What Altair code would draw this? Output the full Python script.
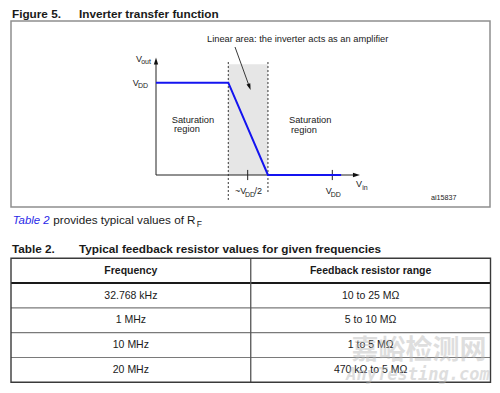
import altair as alt
import pandas as pd

# ---------------- data ----------------
# Inverter transfer function, both axes in units of VDD
vin = [0.0, 0.41, 0.635, 1.05]
vout = [1.0, 1.0, 0.0, 0.0]
linear_area = [0.41, 0.635]      # grey band: linear (amplifier) region
tick_vin = [0.52, 1.0]           # ~VDD/2 and VDD ticks on the Vin axis
axis_max_vin = 1.13
axis_max_vout = 1.22

# Table 2
headers = ["Frequency", "Feedback resistor range"]
frequencies = ["32.768 kHz", "1 MHz", "10 MHz", "20 MHz"]
resistors = ["10 to 25 MΩ", "5 to 10 MΩ", "1 to 5 MΩ", "470 kΩ to 5 MΩ"]

# ---------------- layout helpers ----------------
OX, OY = 8, 8          # page margin: reference pixel -> chart pixel
W, H = 484, 377
FONT = "Liberation Sans"
INK = "#1a1a1a"
BLUE = "#1414f0"
ONE = pd.DataFrame({"k": [0]})


def px(x):
    return x - OX


def py(y):
    return y - OY


def label(text, x, y, size, weight="normal", style="normal", color=INK,
          align="left", baseline="alphabetic", font=FONT, opacity=1.0):
    return alt.Chart(ONE).mark_text(
        text=text, fontSize=size, fontWeight=weight, fontStyle=style,
        color=color, align=align, baseline=baseline, font=font, opacity=opacity
    ).encode(x=alt.value(px(x)), y=alt.value(py(y)))


# figure coordinate system (Vin, Vout in VDD units)
XS = alt.Scale(domain=[0, 1], range=[px(156), px(332.3)], nice=False, zero=False)
YS = alt.Scale(domain=[0, 1], range=[py(175), py(82.7)], nice=False, zero=False)


def fx(f):
    return alt.X(f, scale=XS, axis=None)


def fy(f):
    return alt.Y(f, scale=YS, axis=None)


layers = []

# Figure frame
layers.append(alt.Chart(ONE).mark_rect(fillOpacity=0, stroke="#8f8f8f", strokeWidth=1.5).encode(
    x=alt.value(px(11)), x2=alt.value(px(490)), y=alt.value(py(21)), y2=alt.value(py(207))))

# Linear-area shading
shade = pd.DataFrame({"x0": [linear_area[0]], "x1": [linear_area[1]], "y0": [0.0], "y1": [1.2]})
layers.append(alt.Chart(shade).mark_rect(color="#e6e6e6").encode(
    x=fx("x0:Q"), x2="x1:Q", y=fy("y0:Q"), y2="y1:Q"))

# Dashed boundaries of the linear area
dash = pd.DataFrame({"v": linear_area, "top": [1.224, 1.224], "bot": [-0.27, -0.2]})
layers.append(alt.Chart(dash).mark_rule(color="#333333", strokeWidth=1, strokeDash=[2, 2]).encode(
    x=fx("v:Q"), y=fy("top:Q"), y2="bot:Q"))

# Axes
axes = pd.DataFrame({"x0": [0.0, 0.0], "x1": [0.0, axis_max_vin],
                     "y0": [0.0, 0.0], "y1": [axis_max_vout, 0.0]})
layers.append(alt.Chart(axes).mark_rule(color="#222222", strokeWidth=1).encode(
    x=fx("x0:Q"), x2="x1:Q", y=fy("y0:Q"), y2="y1:Q"))

# Ticks
ticks = pd.DataFrame({"v": tick_vin, "lo": [-0.055] * 2, "hi": [0.055] * 2})
layers.append(alt.Chart(ticks).mark_rule(color="#222222", strokeWidth=1).encode(
    x=fx("v:Q"), y=fy("lo:Q"), y2="hi:Q"))

# Arrow heads on axes
ARROW = "M0,-1L0.62,1L-0.62,1Z"
heads = pd.DataFrame({"x": [0.0, 1.137], "y": [1.235, 0.0], "a": [0, 90]})
layers.append(alt.Chart(heads).mark_point(shape=ARROW, filled=True, size=49, color="#111111", opacity=1).encode(
    x=fx("x:Q"), y=fy("y:Q"), angle=alt.Angle("a:Q", scale=None)))

# Transfer curve
curve = pd.DataFrame({"vin": vin, "vout": vout})
layers.append(alt.Chart(curve).mark_line(color=BLUE, strokeWidth=2).encode(
    x=fx("vin:Q"), y=fy("vout:Q")))

# Annotation arrow
layers.append(alt.Chart(ONE).mark_rule(color="#222222", strokeWidth=0.9).encode(
    x=alt.value(px(235)), y=alt.value(py(47)), x2=alt.value(px(249.3)), y2=alt.value(py(86.5))))
layers.append(alt.Chart(ONE).mark_point(shape=ARROW, filled=True, size=42, color="#111111", opacity=1, angle=160).encode(
    x=alt.value(px(249.5)), y=alt.value(py(86.9))))

# Figure texts
layers += [
    label("Figure 5.", 12, 17.5, 11.75, weight="bold"),
    label("Inverter transfer function", 79, 17.5, 11.75, weight="bold"),
    label("Linear area: the inverter acts as an amplifier", 207, 41.5, 9.3),
    label("Saturation", 171.7, 122.5, 9.3),
    label("region", 174, 132, 9.3),
    label("Saturation", 289, 123, 9.3),
    label("region", 291, 133, 9.3),
    label("V", 136, 61.7, 9), label("out", 141.2, 63.7, 7),
    label("V", 132.7, 86, 9), label("DD", 137.9, 88, 7),
    label("~V", 235, 194.3, 9), label("DD", 245, 196.5, 7), label("/2", 254.5, 194.3, 9),
    label("V", 325.7, 194.3, 9), label("DD", 330.8, 196.5, 7),
    label("V", 356, 187.3, 9), label("in", 362.3, 190, 7),
    label("ai15837", 431, 199.5, 7.2),
    label("Table 2", 12.7, 223.5, 11.4, style="italic", color="#2a2ae8"),
    label("provides typical values of R", 53.3, 223.5, 11.7),
    label("F", 196.8, 226.7, 8.5),
    label("Table 2.", 12, 252.5, 11.75, weight="bold"),
    label("Typical feedback resistor values for given frequencies", 79, 252.5, 11.75, weight="bold"),
]

# ---------------- table ----------------
ROWS = ["h", "r1", "r2", "r3", "r4"]
COLS = ["c1", "c2"]
RS = alt.Scale(type="band", domain=ROWS, range=[py(258.3), py(382.3)], paddingInner=0, paddingOuter=0)
CS = alt.Scale(type="band", domain=COLS, range=[px(11), px(490.5)], paddingInner=0, paddingOuter=0)


def tx(f, bp=0.5):
    return alt.X(f, scale=CS, axis=None, bandPosition=bp)


def ty(f, bp=0.5):
    return alt.Y(f, scale=RS, axis=None, bandPosition=bp)


head_df = pd.DataFrame({"row": ["h", "h"], "col": COLS, "t": headers})
body_df = pd.DataFrame({
    "row": [f"r{i + 1}" for i in range(len(frequencies))] * 2,
    "col": ["c1"] * len(frequencies) + ["c2"] * len(resistors),
    "t": frequencies + resistors,
})

# row separators
layers.append(alt.Chart(pd.DataFrame({"row": ["r2", "r3", "r4"]})).mark_rule(color="#7a7a7a", strokeWidth=1.2).encode(
    y=ty("row:N", 0), x=alt.value(px(11)), x2=alt.value(px(490.5))))
# header separator
layers.append(alt.Chart(pd.DataFrame({"row": ["r1"]})).mark_rule(color="#1a1a1a", strokeWidth=2).encode(
    y=ty("row:N", 0), x=alt.value(px(11)), x2=alt.value(px(490.5))))
# column divider
layers.append(alt.Chart(pd.DataFrame({"col": ["c2"]})).mark_rule(color="#555555", strokeWidth=1.3).encode(
    x=tx("col:N", 0), y=alt.value(py(258.3)), y2=alt.value(py(382.3))))
# outer border
layers.append(alt.Chart(ONE).mark_rect(fillOpacity=0, stroke="#3a3a3a", strokeWidth=1.4).encode(
    x=alt.value(px(11)), x2=alt.value(px(490.5)), y=alt.value(py(258.3)), y2=alt.value(py(382.3))))

layers.append(alt.Chart(head_df).mark_text(font=FONT, fontSize=10.5, fontWeight="bold", color=INK, baseline="middle").encode(
    x=tx("col:N"), y=ty("row:N"), text="t:N"))
layers.append(alt.Chart(body_df).mark_text(font=FONT, fontSize=10.5, color=INK, baseline="middle").encode(
    x=tx("col:N"), y=ty("row:N"), text="t:N"))

# watermark
layers.append(label("嘉峪检测网", 419, 351, 27, weight="bold", color="#b8b8b8", align="center",
                    baseline="middle", font="Noto Sans CJK SC", opacity=0.45))
layers.append(label("AnyTesting.com", 418, 380, 17, weight="bold", style="italic", color="#b8b8b8",
                    align="center", font="DejaVu Sans Mono", opacity=0.45))

chart = alt.layer(*layers).resolve_scale(x="independent", y="independent").properties(
    width=W, height=H, padding=0, autosize=alt.AutoSizeParams(type="none"), background="white"
).configure_view(strokeWidth=0)

chart.save("out.html", embed_options={"renderer": "svg", "actions": False})
